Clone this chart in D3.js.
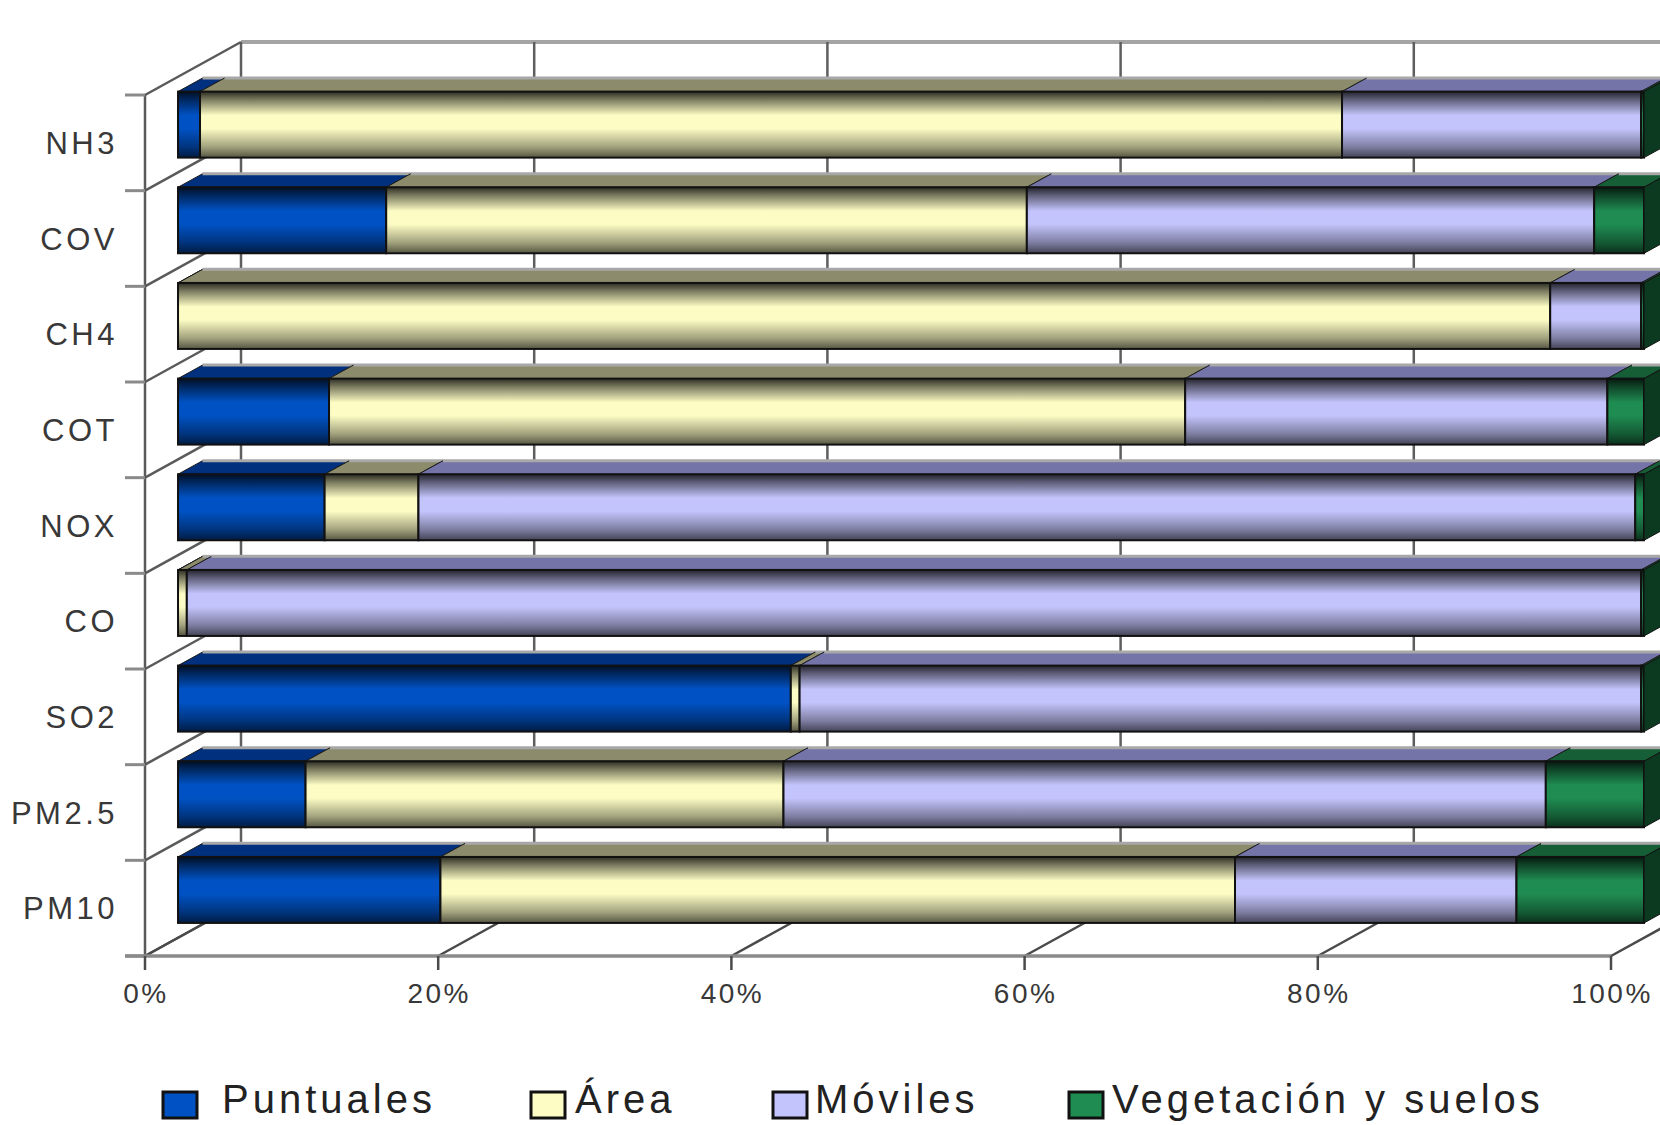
<!DOCTYPE html>
<html>
<head>
<meta charset="utf-8">
<script src="https://cdn.jsdelivr.net/npm/d3@7"></script>
<style>
  body { margin: 0; background: #fff; }
  text { font-family: "Liberation Sans", Arial, sans-serif; }
</style>
</head>
<body>
<svg id="chart" width="1660" height="1125"></svg>
<script>
// emisiones por tipo de fuente (% del total de cada contaminante)
var categories = ["NH3", "COV", "CH4", "COT", "NOX", "CO", "SO2", "PM2.5", "PM10"];
var seriesNames = ["Puntuales", "Área", "Móviles", "Vegetación y suelos"];
var puntuales  = [1.5, 14.2, 0.0, 10.3, 10.0, 0.0, 41.8, 8.7, 17.9];
var area       = [77.9, 43.7, 93.6, 58.4, 6.4, 0.6, 0.6, 32.6, 54.2];
var moviles    = [20.4, 38.7, 6.2, 28.8, 83.0, 99.2, 57.4, 52.0, 19.2];
var vegetacion = [0.2, 3.4, 0.2, 2.5, 0.6, 0.2, 0.2, 6.7, 8.7];
var xTicks = [0, 20, 40, 60, 80, 100];

var baseColors = ["#0052c4", "#fcfcc4", "#c4c4fc", "#1f8c52"];
var topColors  = ["#00307e", "#8c8c6c", "#7474a8", "#155e36"];

var table = categories.map(function (c, i) {
    var row = { cat: c };
    row[seriesNames[0]] = puntuales[i];
    row[seriesNames[1]] = area[i];
    row[seriesNames[2]] = moviles[i];
    row[seriesNames[3]] = vegetacion[i];
    return row;
});
var stacked = d3.stack().keys(seriesNames)(table);

var svg = d3.select("#chart");
var xLeft = 145, xRight = 1611, yTop = 95, yBot = 956;
var depthX = 96, depthY = -53;
var zFront = 0.344, zBack = 0.6;

var scX = d3.scaleLinear().domain([0, 100]).range([xLeft, xRight]);
var scY = d3.scaleBand().domain(categories).range([yTop, yBot])
    .paddingInner(0.31).paddingOuter(0.155);

function proj(v, y, z) { return [scX(v) + z * depthX, y + z * depthY]; }
function pts(list) { return list.map(function (p) { return p.join(","); }).join(" "); }

// gradients (front faces look like shaded tubes)
var defs = svg.append("defs");
baseColors.forEach(function (c, i) {
    var dk = function (t) { return d3.interpolateRgb(c, "#000")(t); };
    var g = defs.append("linearGradient").attr("id", "grad" + i)
        .attr("x1", 0).attr("y1", 0).attr("x2", 0).attr("y2", 1);
    [[0, dk(0.82)], [0.12, dk(0.52)], [0.36, c], [0.56, c], [0.84, dk(0.36)], [1, dk(0.66)]]
        .forEach(function (s) {
            g.append("stop").attr("offset", s[0]).attr("stop-color", s[1]);
        });
});

// back wall
var gBack = svg.append("g");
gBack.append("line")
    .attr("x1", scX(0) + depthX).attr("y1", yTop + depthY)
    .attr("x2", 1660).attr("y2", yTop + depthY)
    .attr("stroke", "#a4a4a4").attr("stroke-width", 4);
gBack.selectAll(".grid").data(xTicks).enter().append("line")
    .attr("x1", d => scX(d) + depthX).attr("x2", d => scX(d) + depthX)
    .attr("y1", yTop + depthY).attr("y2", yBot + depthY)
    .attr("stroke", "#5e5e5e").attr("stroke-width", 2.5);

// left wall
var bounds = d3.range(categories.length + 1).map(i => yTop + i * scY.step());
var gLeft = svg.append("g");
gLeft.selectAll(".diag").data(bounds).enter().append("line")
    .attr("x1", xLeft).attr("y1", d => d)
    .attr("x2", xLeft + depthX).attr("y2", d => d + depthY)
    .attr("stroke", "#5a5a5a").attr("stroke-width", 2.5);
gLeft.append("line")
    .attr("x1", xLeft).attr("y1", yTop).attr("x2", xLeft).attr("y2", yBot)
    .attr("stroke", "#5a5a5a").attr("stroke-width", 2.5);
gLeft.selectAll(".tick").data(bounds).enter().append("line")
    .attr("x1", xLeft - 20).attr("x2", xLeft).attr("y1", d => d).attr("y2", d => d)
    .attr("stroke", "#8a8a8a").attr("stroke-width", 3);

// floor
var gFloor = svg.append("g");
gFloor.selectAll(".fdiag").data(xTicks).enter().append("line")
    .attr("x1", d => scX(d)).attr("y1", yBot)
    .attr("x2", d => scX(d) + depthX).attr("y2", yBot + depthY)
    .attr("stroke", "#4a4a4a").attr("stroke-width", 2.5);
gFloor.append("line")
    .attr("x1", xLeft - 20).attr("x2", xRight).attr("y1", yBot).attr("y2", yBot)
    .attr("stroke", "#8a8a8a").attr("stroke-width", 3.5);
gFloor.selectAll(".xtick").data(xTicks).enter().append("line")
    .attr("x1", d => scX(d)).attr("x2", d => scX(d))
    .attr("y1", yBot).attr("y2", yBot + 14)
    .attr("stroke", "#4a4a4a").attr("stroke-width", 2.5);

// bars
var bw = scY.bandwidth();
var gBars = svg.append("g");
categories.forEach(function (cat, ci) {
    var y = scY(cat);
    var g = gBars.append("g");
    stacked.forEach(function (layer, si) {
        var d = layer[ci];
        var v0 = d[0], v1 = d[1];
        var a = proj(v0, y, zFront), b = proj(v1, y, zFront);
        var c = proj(v1, y, zBack), e = proj(v0, y, zBack);
        // top face
        g.append("polygon").attr("points", pts([a, b, c, e]))
            .attr("fill", topColors[si]).attr("stroke", "#1a1a1a").attr("stroke-width", 1);
        g.append("line").attr("x1", e[0]).attr("y1", e[1]).attr("x2", c[0]).attr("y2", c[1])
            .attr("stroke", "#a8a8a8").attr("stroke-width", 3);
        // front face
        g.append("rect").attr("x", a[0]).attr("y", a[1])
            .attr("width", Math.max(0, b[0] - a[0])).attr("height", bw)
            .attr("fill", "url(#grad" + si + ")")
            .attr("stroke", "#111").attr("stroke-width", 2);
        // right side of last segment
        if (si === stacked.length - 1) {
            var f = proj(v1, y + bw, zBack), h = proj(v1, y + bw, zFront);
            g.append("polygon").attr("points", pts([b, c, f, h]))
                .attr("fill", "#0c3a20").attr("stroke", "#111").attr("stroke-width", 1);
        }
    });
});

// category labels
svg.append("g").selectAll("text").data(categories).enter().append("text")
    .attr("x", 118).attr("y", d => scY(d) + bw / 2 + 11)
    .attr("text-anchor", "end")
    .attr("font-size", 31).attr("letter-spacing", 3.5)
    .attr("fill", "#383838")
    .text(d => d);

// x tick labels
svg.append("g").selectAll("text").data(xTicks).enter().append("text")
    .attr("x", d => scX(d) + 1).attr("y", 1003)
    .attr("text-anchor", "middle")
    .attr("font-size", 28).attr("letter-spacing", 2.5)
    .attr("fill", "#383838")
    .text(d => d + "%");

// legend
var legendX = [163, 531, 773, 1069];
var legendTextX = [222, 575, 815, 1112];
var gLeg = svg.append("g");
seriesNames.forEach(function (name, i) {
    gLeg.append("rect").attr("x", legendX[i]).attr("y", 1092)
        .attr("width", 34).attr("height", 26)
        .attr("fill", baseColors[i]).attr("stroke", "#111").attr("stroke-width", 3);
    gLeg.append("text").attr("x", legendTextX[i]).attr("y", 1113)
        .attr("font-size", 40).attr("letter-spacing", 4)
        .attr("fill", "#222")
        .text(name);
});
</script>
</body>
</html>
